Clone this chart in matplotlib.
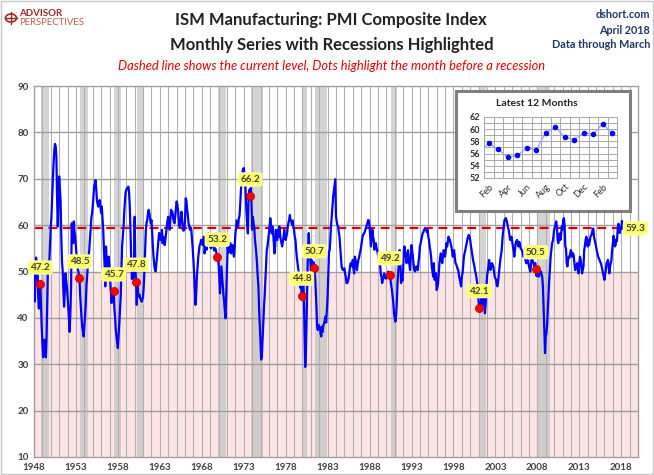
import matplotlib
matplotlib.use("Agg")
import matplotlib.pyplot as plt
from matplotlib.patches import Rectangle, Circle
import numpy as np

plt.rcParams['font.family'] = ['Lato', 'DejaVu Sans']

# ---------------- data (monthly ISM PMI, Jan 1948 - Mar 2018) ----------------
pmi_1940s = [
    51.5, 43.5, 47.5, 53.0, 49.0, 51.0, 44.5, 42.0, 46.5, 47.2, 43.0, 38.0,
    34.5, 31.5, 33.0, 35.3, 33.0, 31.5, 36.0, 44.0, 51.8, 52.0, 52.5, 56.0,
]
pmi_1950s = [
    59.7, 62.0, 66.2, 70.0, 73.3, 76.0, 77.5, 77.0, 74.8, 66.0, 59.7, 65.0,
    70.5, 68.0, 65.4, 58.0, 52.0, 50.3, 46.0, 42.4, 45.5, 49.6, 48.0, 46.8,
    44.5, 42.4, 39.5, 37.0, 41.0, 46.0, 60.4, 58.0, 56.1, 60.8, 58.5, 57.5,
    55.5, 53.2, 52.0, 50.5, 49.5, 48.5, 45.0, 42.4, 40.0, 38.0, 37.0, 36.0,
    38.0, 40.3, 43.0, 47.0, 49.0, 51.0, 53.0, 54.6, 57.0, 59.0, 61.5, 62.5,
    64.0, 66.0, 68.3, 69.0, 69.7, 68.0, 65.4, 64.5, 64.0, 64.5, 65.4, 64.0,
    62.6, 64.0, 61.5, 59.0, 54.7, 51.0, 46.8, 55.4, 52.5, 50.3, 52.0, 53.2,
    50.5, 48.2, 45.5, 43.2, 46.0, 44.0, 45.7, 42.0, 40.0, 37.4, 36.0, 34.5,
    33.5, 36.0, 38.8, 41.5, 44.6, 50.0, 55.4, 57.5, 59.5, 62.6, 65.0, 67.0,
    67.6, 67.9, 68.0, 68.3, 67.0, 64.0, 59.0, 52.7, 48.4, 49.5, 48.5, 52.0,
]
pmi_1960s = [
    61.8, 50.5, 47.8, 42.8, 47.5, 45.3, 44.6, 45.0, 44.2, 43.9, 43.5, 44.0,
    44.5, 47.0, 50.3, 55.0, 59.0, 60.5, 61.1, 62.5, 63.3, 62.6, 61.5, 60.4,
    61.1, 58.5, 55.4, 53.2, 51.5, 50.3, 50.0, 51.5, 53.2, 55.0, 56.8, 58.3,
    57.5, 56.8, 57.5, 59.0, 56.1, 57.5, 56.5, 55.7, 57.0, 58.5, 59.7, 61.0,
    61.8, 60.5, 59.0, 61.0, 63.3, 63.0, 62.9, 61.5, 60.8, 60.4, 62.0, 63.5,
    65.1, 64.5, 63.3, 61.5, 59.7, 60.5, 61.1, 62.9, 61.0, 59.0, 58.8, 59.0,
    61.0, 65.8, 65.4, 63.5, 62.2, 60.5, 59.7, 59.0, 59.5, 59.0, 57.0, 55.0,
    52.5, 49.6, 46.0, 42.8, 45.0, 48.9, 51.0, 53.2, 54.5, 55.7, 56.0, 56.8,
    56.8, 55.7, 56.5, 57.5, 53.9, 55.0, 56.1, 54.7, 56.0, 58.2, 57.5, 56.8,
    55.5, 55.0, 56.1, 55.5, 56.0, 55.0, 54.5, 55.0, 54.7, 54.0, 53.2, 53.2,
]
pmi_1970s = [
    51.8, 49.0, 45.3, 48.0, 51.1, 49.0, 46.7, 45.0, 43.5, 41.5, 39.9, 45.0,
    49.6, 55.4, 54.0, 54.7, 55.5, 56.1, 53.9, 54.5, 55.7, 54.5, 53.2, 55.0,
    58.0, 59.5, 61.0, 60.5, 59.7, 61.5, 62.0, 64.5, 67.6, 69.5, 71.2, 72.1,
    72.3, 71.0, 69.7, 66.2, 62.6, 60.0, 58.2, 66.2, 67.6, 66.2, 68.0, 65.0,
    59.0, 61.8, 60.5, 59.7, 57.0, 55.4, 53.9, 51.8, 49.0, 46.8, 42.0, 38.5,
    34.5, 31.0, 32.0, 35.5, 39.0, 42.4, 45.0, 48.2, 51.5, 54.7, 55.4, 56.8,
    58.0, 59.7, 61.5, 60.0, 58.2, 59.7, 58.5, 56.1, 53.9, 55.5, 59.0, 57.0,
    56.8, 59.0, 57.5, 59.7, 58.0, 56.8, 56.1, 55.4, 56.5, 57.5, 59.0, 57.5,
    56.8, 57.5, 58.2, 59.7, 60.5, 61.1, 62.2, 61.1, 60.8, 60.1, 61.0, 59.5,
    59.0, 57.5, 56.8, 54.7, 53.0, 51.8, 50.5, 49.6, 48.0, 46.5, 47.0, 44.8,
]
pmi_1980s = [
    46.8, 49.6, 44.6, 37.4, 29.4, 33.0, 40.0, 48.2, 55.0, 58.3, 55.0, 53.2,
    50.3, 52.5, 51.0, 50.3, 52.0, 50.7, 48.9, 46.0, 42.4, 38.1, 37.4, 38.5,
    37.8, 38.0, 36.5, 36.0, 38.1, 37.0, 38.5, 38.8, 39.5, 40.3, 39.0, 42.0,
    44.6, 49.5, 54.3, 54.6, 57.5, 60.0, 62.0, 64.0, 66.2, 67.5, 69.0, 69.9,
    61.8, 60.8, 60.0, 59.7, 58.5, 57.5, 55.4, 53.0, 51.1, 50.5, 50.3, 50.5,
    50.7, 49.5, 48.9, 47.5, 47.5, 47.8, 48.5, 49.6, 51.0, 51.8, 51.5, 51.1,
    52.5, 50.5, 49.6, 53.2, 52.5, 51.8, 50.3, 51.5, 52.5, 53.0, 53.9, 54.5,
    55.4, 56.5, 57.5, 58.0, 58.2, 58.5, 59.0, 59.5, 60.0, 60.5, 61.1, 61.0,
    59.7, 57.5, 55.4, 57.0, 59.0, 57.5, 56.8, 54.7, 55.5, 56.1, 55.0, 54.5,
    53.6, 53.2, 52.5, 51.8, 49.5, 48.9, 47.5, 48.2, 49.0, 49.6, 48.9, 48.5,
]
pmi_1990s = [
    48.5, 49.0, 49.6, 50.0, 49.5, 49.2, 48.2, 47.0, 46.0, 44.5, 43.2, 41.0,
    39.9, 39.2, 40.5, 43.2, 47.5, 50.0, 51.8, 54.6, 52.5, 47.5, 49.0, 48.0,
    50.3, 54.6, 55.4, 54.0, 53.2, 51.8, 53.5, 54.6, 52.5, 51.5, 50.3, 53.2,
    55.7, 54.5, 53.2, 51.5, 50.3, 50.0, 50.5, 51.1, 50.8, 50.3, 52.0, 53.2,
    55.4, 56.0, 56.8, 57.5, 58.3, 58.5, 59.0, 59.2, 59.3, 59.0, 58.5, 59.0,
    57.5, 56.8, 55.4, 54.5, 53.2, 51.1, 50.0, 48.9, 51.8, 48.2, 48.5, 49.6,
    46.0, 46.5, 47.5, 49.5, 51.8, 53.0, 53.9, 52.5, 51.8, 53.0, 54.6, 54.0,
    53.2, 54.5, 56.1, 55.4, 56.5, 57.5, 57.0, 56.8, 56.0, 55.4, 54.5, 53.2,
    54.0, 54.6, 53.0, 51.8, 51.5, 51.1, 50.5, 50.3, 49.0, 48.2, 47.5, 46.8,
    49.0, 49.6, 51.5, 53.2, 54.0, 54.6, 55.5, 56.1, 57.0, 57.5, 57.9, 57.5,
]
pmi_2000s = [
    56.8, 55.5, 54.6, 53.5, 52.5, 51.8, 51.1, 50.0, 49.6, 48.5, 47.5, 45.3,
    43.5, 42.1, 43.0, 43.2, 44.2, 43.5, 42.8, 44.0, 44.6, 41.0, 43.0, 46.0,
    48.9, 50.0, 51.1, 52.5, 51.5, 50.3, 51.0, 51.8, 51.5, 51.1, 50.0, 48.9,
    48.5, 48.2, 47.0, 46.8, 48.0, 49.6, 51.0, 52.5, 53.5, 54.6, 56.8, 58.5,
    59.7, 61.1, 61.3, 61.5, 61.0, 60.4, 59.5, 59.0, 58.0, 56.8, 57.0, 57.5,
    56.5, 55.4, 54.5, 53.2, 54.5, 56.1, 56.5, 56.8, 56.0, 55.4, 56.4, 56.0,
    55.0, 54.8, 54.6, 54.0, 53.2, 53.4, 53.6, 52.5, 51.8, 52.0, 52.5, 51.8,
    51.1, 50.5, 50.0, 51.5, 53.2, 52.5, 52.1, 51.5, 51.1, 51.8, 50.5, 49.0,
    50.3, 49.0, 48.9, 49.2, 49.6, 50.0, 49.5, 48.9, 46.8, 42.4, 37.4, 32.4,
    36.0, 36.7, 38.5, 41.7, 44.5, 48.2, 50.5, 53.2, 54.5, 56.1, 56.5, 57.5,
]
pmi_2010s = [
    59.0, 59.5, 60.1, 60.8, 59.5, 56.8, 56.1, 57.5, 58.2, 56.8, 58.0, 59.7,
    59.0, 61.1, 61.5, 60.0, 55.4, 55.0, 51.8, 51.1, 52.5, 53.2, 53.0, 53.9,
    54.6, 53.9, 53.2, 53.9, 53.5, 51.8, 50.3, 50.5, 51.1, 51.8, 50.5, 49.6,
    51.8, 53.2, 52.5, 51.1, 49.6, 50.3, 51.1, 54.6, 55.5, 56.8, 57.5, 57.0,
    55.4, 56.8, 55.7, 56.5, 57.5, 57.8, 58.2, 59.0, 59.3, 57.5, 56.8, 56.1,
    55.4, 54.5, 53.9, 53.2, 52.8, 52.5, 52.0, 51.8, 51.1, 50.3, 49.6, 48.9,
    48.2, 49.5, 50.3, 51.8, 52.0, 52.5, 51.1, 49.6, 51.1, 51.8, 52.5, 54.7,
    56.0, 57.7, 56.7, 55.4, 55.7, 56.9, 56.6, 59.4, 60.3, 58.7, 58.3, 59.4,
    59.2, 60.9, 59.3,
]
start_year = 1948

# recessions (NBER peak, trough) as (year, month)
rec_peaks = [(1948, 11), (1953, 7), (1957, 8), (1960, 4), (1969, 12), (1973, 11),
             (1980, 1), (1981, 7), (1990, 7), (2001, 3), (2007, 12)]
rec_troughs = [(1949, 10), (1954, 5), (1958, 4), (1961, 2), (1970, 11), (1975, 3),
               (1980, 7), (1982, 11), (1991, 3), (2001, 11), (2009, 6)]
# month before each recession and its value
dot_months = [(1948, 10), (1953, 6), (1957, 7), (1960, 3), (1969, 11), (1973, 10),
              (1979, 12), (1981, 6), (1990, 6), (2001, 2), (2007, 11)]
dot_values = [47.2, 48.5, 45.7, 47.8, 53.2, 66.2, 44.8, 50.7, 49.2, 42.1, 50.5]
current_level = 59.3

year_ticks = list(range(1948, 2019, 5))
y_ticks = [10, 20, 30, 40, 50, 60, 70, 80, 90]
inset_months = ['Jan', 'Feb', 'Mar', 'Apr', 'May', 'Jun', 'Jul', 'Aug', 'Sep',
                'Oct', 'Nov', 'Dec']
inset_yticks = [52, 54, 56, 58, 60, 62]

# ---------------------------------------------------------------------------
pmi = np.array(pmi_1940s + pmi_1950s + pmi_1960s + pmi_1970s + pmi_1980s +
               pmi_1990s + pmi_2000s + pmi_2010s)
t = start_year + np.arange(len(pmi)) / 12.0


def ym(y, m):
    return y + (m - 1) / 12.0


W, H = 654, 475
fig = plt.figure(figsize=(W / 100, H / 100), dpi=100)
fig.patch.set_facecolor('white')
fig.add_artist(Rectangle((0.0015, 0.002), 0.997, 0.996, transform=fig.transFigure,
                         fill=False, ec='#c8c8c8', lw=1.0))

ax = fig.add_axes([34 / W, 1 - 457 / H, 604 / W, 371 / H])
ax.set_xlim(1948, 2020)
ax.set_ylim(10, 90)

ax.axhspan(10, 50, color='#fde4e4', zorder=0, lw=0)
for p, tr in zip(rec_peaks, rec_troughs):
    ax.axvspan(ym(*p), ym(*tr) + 1 / 12, color='#c2c2c2', alpha=0.7, lw=0, zorder=0.5)

for yr in range(1949, 2020):
    ax.axvline(yr, color='#b0b0b0', lw=0.8, zorder=1)
for yv in y_ticks[1:-1]:
    ax.axhline(yv, color='#a0a0a0', lw=1.0, zorder=1)

ax.axhline(current_level, color='#e00000', lw=1.6, ls=(0, (4, 2.5)), zorder=2)
ax.plot(t, pmi, color='#0000ff', lw=1.6, zorder=3)

dx = [ym(*d) for d in dot_months]
ax.scatter(dx, dot_values, s=34, color='#ff0000', edgecolor='#b00000', lw=0.5, zorder=4)
for x, v in zip(dx, dot_values):
    ax.annotate(f"{v:.1f}", (x, v), xytext=(0, 9), textcoords='offset points',
                ha='center', va='bottom', fontsize=7.2, fontweight='bold',
                color='#404040', zorder=5,
                bbox=dict(boxstyle='round,pad=0.18', fc='#ffff66', ec='#ffff99', lw=1.2))
ax.annotate(f"{current_level:.1f}", (t[-1], pmi[-1]), xytext=(2, 0),
            textcoords='offset points', ha='left', va='center', fontsize=7.2,
            fontweight='bold', color='#404040', zorder=5,
            bbox=dict(boxstyle='round,pad=0.18', fc='#ffff66', ec='#ffff99', lw=1.2))

ax.set_xticks(year_ticks)
ax.set_xticklabels([str(y) for y in year_ticks], fontsize=7, fontweight='bold',
                   color='#404040')
ax.set_yticks(y_ticks)
ax.set_yticklabels([str(y) for y in y_ticks], fontsize=7, fontweight='bold',
                   color='#404040')
ax.tick_params(length=0, pad=4)
for s in ax.spines.values():
    s.set_color('#a0a0a0')
    s.set_linewidth(1.0)

# ---------------- titles ----------------
fig.text(331 / W, 1 - 20 / H, "ISM Manufacturing: PMI Composite Index", ha='center',
         va='center', fontsize=12, fontweight='bold', color='#222222')
fig.text(332 / W, 1 - 45 / H, "Monthly Series with Recessions Highlighted", ha='center',
         va='center', fontsize=12, fontweight='bold', color='#222222')
fig.text(332 / W, 1 - 66 / H,
         "Dashed line shows the current level, Dots highlight the month before a recession",
         ha='center', va='center', fontsize=9.3, style='italic', color='#e00000')
for yy, txt in [(15, "dshort.com"), (30, "April 2018"), (45, "Data through March")]:
    fig.text(650 / W, 1 - yy / H, txt, ha='right', va='center', fontsize=7.8,
             fontweight='bold', color='#1f3864')

# logo
fig.add_artist(Circle((11 / W, 1 - 18 / H), 5.5 / W, transform=fig.transFigure,
                      fc='none', ec='#9c2a2a', lw=1.2))
fig.add_artist(plt.Line2D([5 / W, 17 / W], [1 - 18 / H, 1 - 18 / H],
                          transform=fig.transFigure, color='#9c2a2a', lw=1))
fig.add_artist(plt.Line2D([11 / W, 11 / W], [1 - 12 / H, 1 - 24 / H],
                          transform=fig.transFigure, color='#9c2a2a', lw=1))
fig.text(19 / W, 1 - 13 / H, "ADVISOR", ha='left', va='center', fontsize=7,
         fontweight='bold', color='#9c2a2a')
fig.text(19 / W, 1 - 22.5 / H, "PERSPECTIVES", ha='left', va='center', fontsize=6.8,
         color='#b8604a')

# ---------------- inset ----------------
fr = fig.add_axes([456 / W, 1 - 211 / H, 176 / W, 120 / H], zorder=10)
fr.set_xlim(0, 1)
fr.set_ylim(0, 1)
fr.axis('off')
fr.add_patch(Rectangle((0.012, -0.015), 0.99, 1.0, transform=fr.transAxes,
                       fc='#d0d0d0', ec='none', clip_on=False))
fr.add_patch(Rectangle((0, 0), 0.99, 1.0, transform=fr.transAxes, fc='white',
                       ec='#7f7f7f', lw=2.2, clip_on=False))

ins = fig.add_axes([484 / W, 1 - 178 / H, 133 / W, 61 / H], zorder=11)
last = pmi[-15:]
ix = np.arange(-1, 14)
ins.plot(ix, last, color='#9f9fff', lw=0.9, zorder=3)
ins.scatter(ix[1:], last[1:], s=9, color='#0000ff', zorder=4)
ins.set_xlim(-0.5, 13.5)
ins.set_ylim(52, 62)
for k in range(15):
    ins.axvline(-0.5 + k, color='#a8a8a8', lw=0.7, zorder=1)
for yv in range(53, 62):
    ins.axhline(yv, color='#a8a8a8', lw=0.7, zorder=1)
ins.set_yticks(inset_yticks)
ins.set_yticklabels([str(v) for v in inset_yticks], fontsize=6.5, fontweight='bold',
                    color='#303030')
lab_pos = list(range(0, 14, 2))
lab_txt = [inset_months[(1 + p) % 12] for p in lab_pos]
ins.set_xticks(lab_pos)
ins.set_xticklabels(lab_txt, rotation=45, ha='right', rotation_mode='anchor',
                    fontsize=6.5, color='#303030')
ins.tick_params(length=0, pad=3)
for s in ins.spines.values():
    s.set_color('#a8a8a8')
    s.set_linewidth(0.7)
fig.text(537 / W, 1 - 104 / H, "Latest 12 Months", ha='center', va='center',
         fontsize=7.5, fontweight='bold', color='#222222', zorder=12)

fig.savefig("out.png", dpi=100)
